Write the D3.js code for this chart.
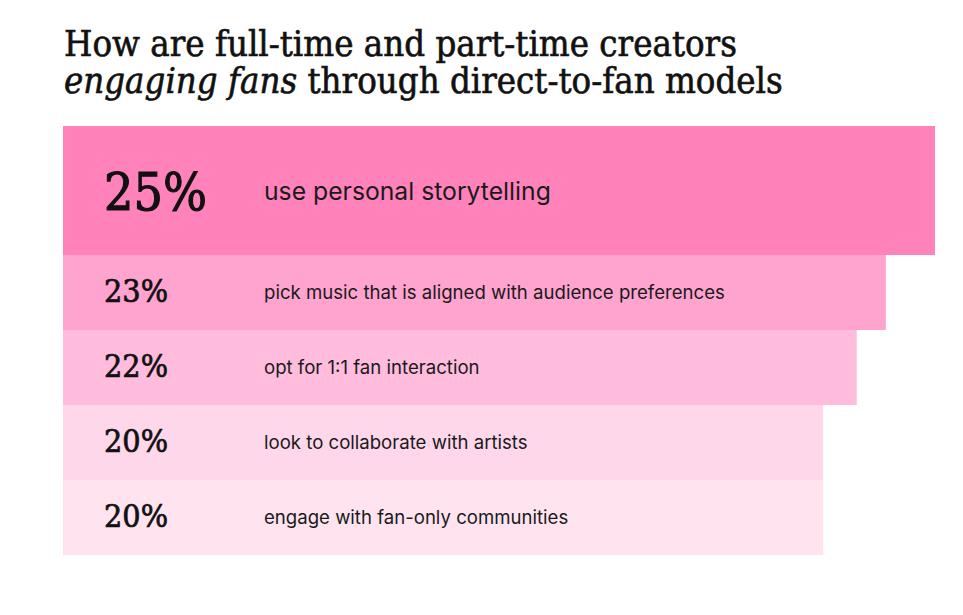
<!DOCTYPE html>
<html>
<head>
<meta charset="utf-8">
<script src="https://cdn.jsdelivr.net/npm/d3@7"></script>
<style>
  html, body { margin: 0; padding: 0; background: #ffffff; }
  svg { display: block; }
</style>
</head>
<body>
<svg id="chart" width="963" height="615"></svg>
<script>
// ---- data ----
// shares; printed labels are the rounded values
const values = [25, 22.8, 21.5, 20, 20];
const valueLabels = ["25%", "23%", "22%", "20%", "20%"];
const categories = [
  "use personal storytelling",
  "pick music that is aligned with audience preferences",
  "opt for 1:1 fan interaction",
  "look to collaborate with artists",
  "engage with fan-only communities"
];
const titleLine1 = "How are full-time and part-time creators";
const titleItalic = "engaging fans";
const titleRest = " through direct-to-fan models";

// ---- layout / style ----
const chartLeft = 63, chartRight = 935;
const chartTop = 126;
const firstH = 129, rowH = 75;
const colors = ["#ff82bb", "#ffa3cf", "#ffbcdd", "#ffd7ea", "#ffe4f0"];
const serif = "'DejaVu Serif Condensed', 'DejaVu Serif', 'Liberation Serif', serif";
const sans = "Inter, 'Noto Sans', sans-serif";

const svg = d3.select("#chart");

const x = d3.scaleLinear().domain([-14, 25]).range([chartLeft, chartRight]);

const rows = values.map((v, i) => {
  const y0 = i === 0 ? chartTop : chartTop + firstH + (i - 1) * rowH;
  const h = i === 0 ? firstH : rowH;
  return { v, i, y0, h, label: valueLabels[i], cat: categories[i] };
});

svg.selectAll("rect.bar")
  .data(rows)
  .join("rect")
  .attr("class", "bar")
  .attr("x", x(-14))
  .attr("y", d => d.y0)
  .attr("width", d => x(d.v) - x(-14))
  .attr("height", d => d.h)
  .attr("fill", (d, i) => colors[i]);

function fitWidth(sel, target) {
  const node = sel.node();
  const fs = parseFloat(sel.attr("font-size"));
  const w = node.getComputedTextLength();
  if (w > 0) sel.attr("font-size", fs * target / w);
  return parseFloat(sel.attr("font-size"));
}

// values
svg.selectAll("text.val")
  .data(rows)
  .join("text")
  .attr("class", "val")
  .attr("x", 104)
  .attr("y", d => d.i === 0 ? d.y0 + 84 : d.y0 + 47)
  .attr("font-family", serif)
  .attr("font-size", d => d.i === 0 ? 56 : 32)
  .attr("fill", "#111")
  .attr("stroke", "#111")
  .attr("stroke-width", d => d.i === 0 ? 1.1 : 0.7)
  .text(d => d.label)
  .each(function (d) { fitWidth(d3.select(this), d.i === 0 ? 103 : 64); });

// category labels
const cats = svg.selectAll("text.cat")
  .data(rows)
  .join("text")
  .attr("class", "cat")
  .attr("x", 264)
  .attr("y", d => d.i === 0 ? d.y0 + 74 : d.y0 + 44)
  .attr("font-family", sans)
  .attr("font-size", d => d.i === 0 ? 24 : 18)
  .attr("fill", "#1a1a1a")
  .text(d => d.cat);
const bigFs = fitWidth(cats.filter(d => d.i === 0), 287);
const smallFs = fitWidth(cats.filter(d => d.i === 1), 461);
cats.filter(d => d.i > 1).attr("font-size", smallFs);

// title
const t1 = svg.append("text")
  .attr("x", 64).attr("y", 56)
  .attr("font-family", serif)
  .attr("font-size", 34)
  .attr("fill", "#111")
  .attr("stroke", "#111")
  .attr("stroke-width", 0.6)
  .text(titleLine1);
const tfs = fitWidth(t1, 673);

const t2 = svg.append("text")
  .attr("x", 64).attr("y", 93)
  .attr("font-family", serif)
  .attr("font-size", tfs)
  .attr("fill", "#111")
  .attr("stroke", "#111")
  .attr("stroke-width", 0.6);
t2.append("tspan").attr("font-style", "italic").text(titleItalic);
t2.append("tspan").text(titleRest);
</script>
</body>
</html>
